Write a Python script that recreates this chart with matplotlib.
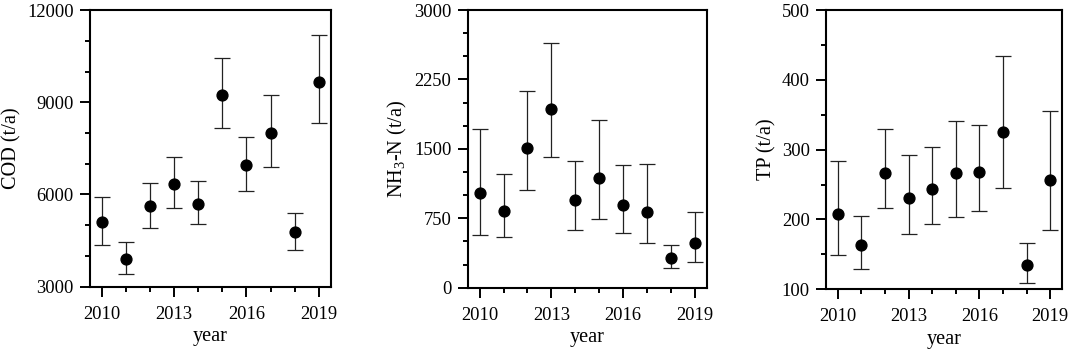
import matplotlib
matplotlib.use('Agg')
import matplotlib.pyplot as plt
from matplotlib.ticker import MultipleLocator

plt.rcParams['font.family'] = ['Liberation Serif', 'DejaVu Serif']
plt.rcParams['mathtext.fontset'] = 'custom'
plt.rcParams['mathtext.rm'] = 'Liberation Serif'

years = [2010, 2011, 2012, 2013, 2014, 2015, 2016, 2017, 2018, 2019]
label_years = years[::3]

cod_mean = [5115, 3900, 5610, 6340, 5690, 9250, 6960, 8010, 4780, 9670]
cod_high = [5930, 4440, 6370, 7210, 6430, 10430, 7880, 9240, 5390, 11190]
cod_low = [4356, 3400, 4920, 5550, 5030, 8170, 6120, 6880, 4200, 8320]

nh3_mean = [1019, 832, 1505, 1927, 943, 1188, 897, 814, 317, 486]
nh3_high = [1714, 1232, 2121, 2643, 1372, 1811, 1325, 1332, 457, 817]
nh3_low = [565, 544, 1051, 1415, 627, 745, 587, 483, 209, 274]

tp_mean = [208, 163, 267, 231, 244, 266, 268, 326, 135, 257]
tp_high = [284, 205, 329, 292, 304, 341, 336, 434, 166, 356]
tp_low = [149, 129, 216, 179, 194, 204, 212, 245, 109, 185]

panels = [
    (cod_mean, cod_high, cod_low, 'COD (t/a)', (3000, 12000), 3000, 1000),
    (nh3_mean, nh3_high, nh3_low, r'NH$\mathregular{_3}$-N (t/a)', (0, 3000), 750, 250),
    (tp_mean, tp_high, tp_low, 'TP (t/a)', (100, 500), 100, 50),
]
boxes = [
    [0.0840, 0.1785, 0.2245, 0.7928],
    [0.4363, 0.1756, 0.2229, 0.7957],
    [0.7705, 0.1710, 0.2201, 0.8003],
]

fig = plt.figure(figsize=(10.72, 3.49), dpi=100)

for (mean, high, low, label, ylim, major, minor), box in zip(panels, boxes):
    ax = fig.add_axes(box)
    err = [[m - l for m, l in zip(mean, low)], [h - m for m, h in zip(mean, high)]]
    ax.errorbar(years, mean, yerr=err, fmt='o', color='black', markersize=7.8,
                ecolor='#222222', elinewidth=0.9, capsize=6, capthick=0.9)
    ax.set_xlim(2009.5, 2019.5)
    ax.set_ylim(*ylim)
    ax.set_xticks(label_years)
    ax.set_xticks([y for y in years if y not in label_years], minor=True)
    ax.yaxis.set_major_locator(MultipleLocator(major))
    ax.yaxis.set_minor_locator(MultipleLocator(minor))
    ax.tick_params(axis='both', which='major', direction='out', length=7.2,
                   width=1.4, labelsize=13.3, pad=4.5)
    ax.tick_params(axis='x', which='major', pad=6.5)
    ax.tick_params(axis='both', which='minor', direction='out', length=3.5, width=1.4)
    ax.tick_params(top=False, right=False)
    for sp in ax.spines.values():
        sp.set_linewidth(1.5)
    ax.set_xlabel('year', fontsize=14.6, labelpad=3)
    ax.set_ylabel(label, fontsize=14.6, labelpad=4)

fig.savefig('out.png', dpi=100)
